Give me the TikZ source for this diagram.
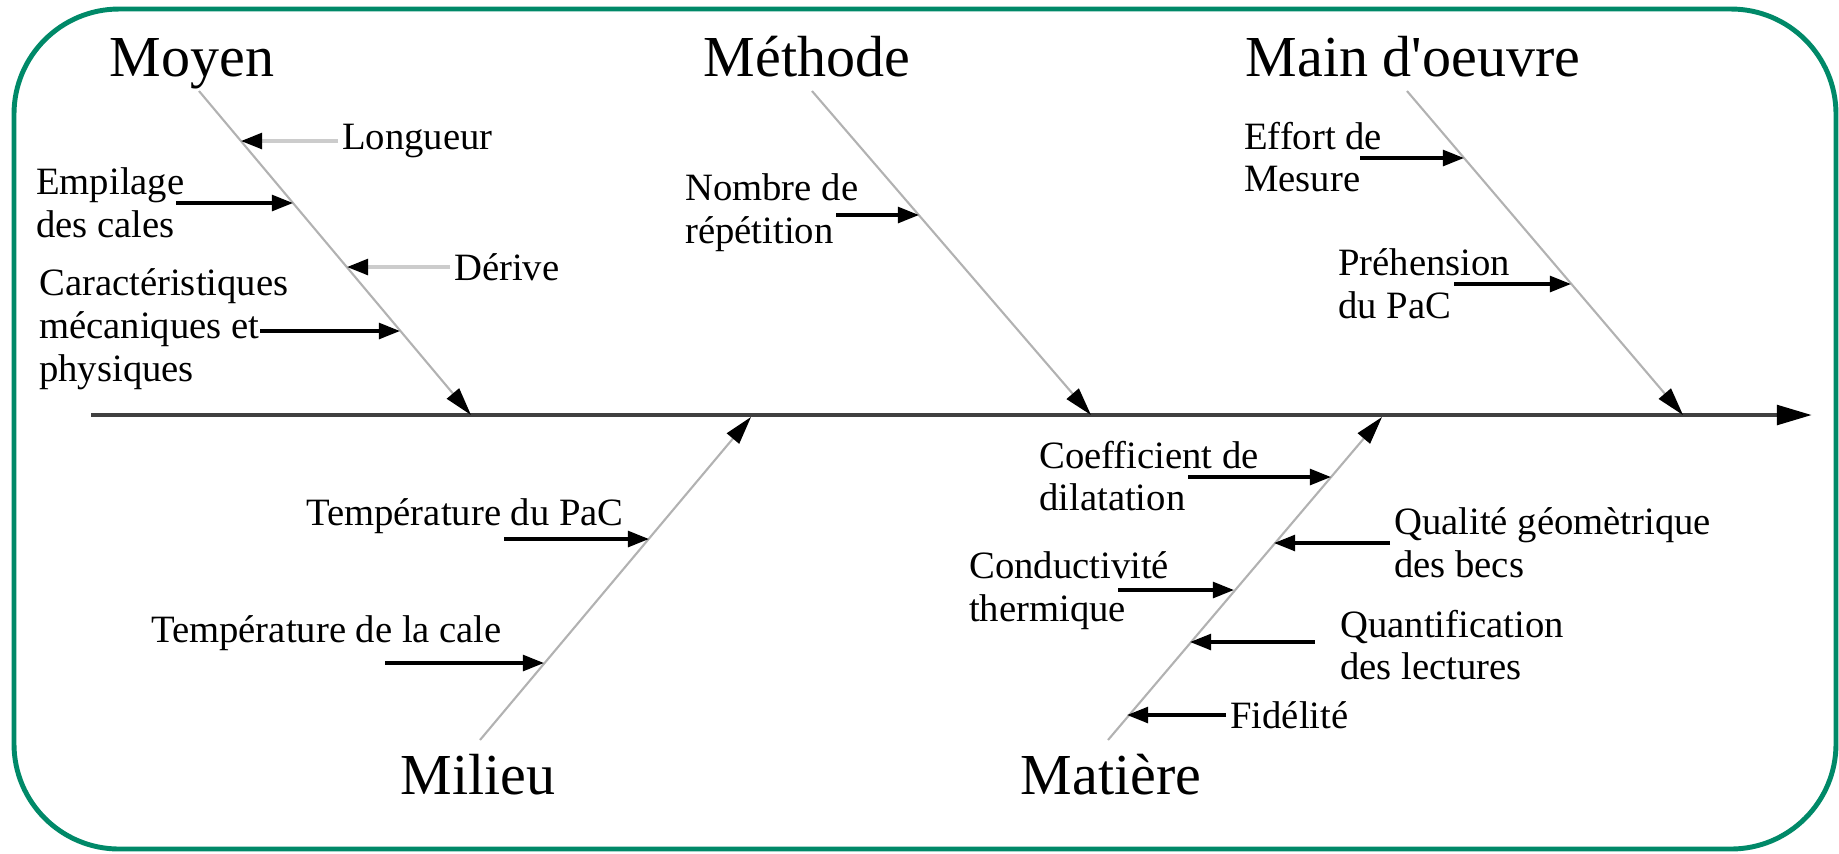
\documentclass[tikz,border=0pt]{standalone}
\usepackage{fontspec}
\setmainfont{Liberation Serif}
\usetikzlibrary{arrows.meta}
\definecolor{frameteal}{RGB}{0,137,104}
\tikzset{
  spine/.style={draw=black!75, line width=1.3pt, -{Triangle[length=10pt,width=5.5pt,color=black]}},
  bone/.style={draw=black!30, line width=0.6pt, -{Triangle[length=8pt,width=4.5pt,color=black]}},
  cause/.style={draw=black, line width=0.9pt, -{Triangle[length=6pt,width=4.5pt,color=black]}},
  faint/.style={draw=black!20, line width=0.9pt, -{Triangle[length=6pt,width=4.5pt,color=black]}},
  family/.style={font=\fontsize{16.5}{18}\selectfont, inner sep=0pt, anchor=base},
  factor/.style={font=\fontsize{11}{12.2}\selectfont, align=left, inner sep=1pt, anchor=west},
}

\begin{document}
\begin{tikzpicture}[x=0.01cm, y=-0.01cm]
  \useasboundingbox (0,0) rectangle (1839,853);
  \draw[frameteal, line width=1.4pt, rounded corners=1.05cm] (14,9) rectangle (1836,849);

  \coordinate (tail) at (91,415);
  \coordinate (head) at (1812,415);
  \draw[spine] (tail) -- (head);

  % familles du haut et du bas
  \foreach \fam/\txt/\lx/\bx/\ex in {moy/Moyen/192/199/471, met/Méthode/807/812/1091, mdo/Main d\textquotesingle oeuvre/1413/1407/1683} {
    \node[family] (\fam) at (\lx,76) {\txt};
    \coordinate (\fam top) at (\bx,91);
    \coordinate (\fam end) at (\ex,415);
    \draw[bone] (\fam top) -- (\fam end);
  }
  \foreach \fam/\txt/\lx/\bx/\ex in {mil/Milieu/478/480/751, mat/Matière/1111/1108/1382} {
    \node[family] (\fam) at (\lx,794) {\txt};
    \coordinate (\fam bot) at (\bx,740);
    \coordinate (\fam end) at (\ex,417);
    \draw[bone] (\fam bot) -- (\fam end);
  }

  % Moyen
  \node[factor] (lon) at (338,141) {Longueur};
  \coordinate (lonT) at (241,141);
  \draw[faint] (lon.west) -- (lonT);
  \node[factor] (emp) at (32,203) {Empilage\\des cales};
  \coordinate (empS) at (176,203);
  \coordinate (empT) at (293,203);
  \draw[cause] (empS) -- (empT);
  \node[factor] (der) at (450,267) {Dérive};
  \coordinate (derT) at (347,267);
  \draw[faint] (der.west) -- (derT);
  \node[factor] (car) at (35,329) {Caractéristiques\\mécaniques et\\physiques};
  \coordinate (carS) at (260,331);
  \coordinate (carT) at (400,331);
  \draw[cause] (carS) -- (carT);

  % Methode
  \node[factor] (nbr) at (681,213) {Nombre de\\répétition};
  \coordinate (nbrS) at (836,215);
  \coordinate (nbrT) at (919,215);
  \draw[cause] (nbrS) -- (nbrT);

  % Main d'oeuvre
  \node[factor] (eff) at (1240,157) {Effort de\\Mesure};
  \coordinate (effS) at (1360,158);
  \coordinate (effT) at (1464,158);
  \draw[cause] (effS) -- (effT);
  \node[factor] (pre) at (1334,284) {Préhension\\du PaC};
  \coordinate (preS) at (1454,284);
  \coordinate (preT) at (1571,284);
  \draw[cause] (preS) -- (preT);

  % Milieu
  \node[factor] (tpac) at (302,516) {Température du PaC};
  \coordinate (tpacS) at (504,539);
  \coordinate (tpacT) at (649,539);
  \draw[cause] (tpacS) -- (tpacT);
  \node[factor] (tcal) at (147,633) {Température de la cale};
  \coordinate (tcalS) at (385,663);
  \coordinate (tcalT) at (544,663);
  \draw[cause] (tcalS) -- (tcalT);

  % Matiere
  \node[factor] (coe) at (1035,476) {Coefficient de\\dilatation};
  \coordinate (coeS) at (1188,477);
  \coordinate (coeT) at (1331,477);
  \draw[cause] (coeS) -- (coeT);
  \node[factor] (qua) at (1390,543) {Qualité géomètrique\\des becs};
  \coordinate (quaT) at (1274,543);
  \draw[cause] (qua.west) -- (quaT);
  \node[factor] (con) at (965,591) {Conductivité\\thermique};
  \coordinate (conS) at (1118,590);
  \coordinate (conT) at (1234,590);
  \draw[cause] (conS) -- (conT);
  \node[factor] (qnt) at (1336,645) {Quantification\\des lectures};
  \coordinate (qntT) at (1190,642);
  \draw[cause] ([xshift=-6pt]qnt.west |- qntT) -- (qntT);
  \node[factor] (fid) at (1226,715) {Fidélité};
  \coordinate (fidT) at (1127,715);
  \draw[cause] (fid.west) -- (fidT);
\end{tikzpicture}
\end{document}
